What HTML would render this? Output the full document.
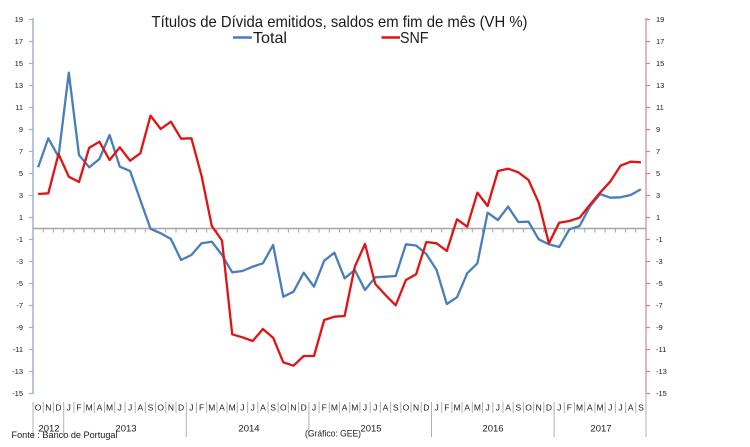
<!DOCTYPE html>
<html>
<head>
<meta charset="utf-8">
<style>
  html, body { margin: 0; padding: 0; background: #ffffff; }
  svg { display: block; }
  text { font-family: "Liberation Sans", sans-serif; fill: #1a1a1a; }
</style>
</head>
<body>
<svg width="750" height="447" viewBox="0 0 750 447" xmlns="http://www.w3.org/2000/svg">
  <rect width="750" height="447" fill="#ffffff"/>

  <!-- Title -->
  <text x="151.5" y="27" font-size="16" textLength="376" lengthAdjust="spacingAndGlyphs">Títulos de Dívida emitidos, saldos em fim de mês  (VH %)</text>

  <!-- Legend -->
  <line x1="233" y1="37.5" x2="252" y2="37.5" stroke="#4a7ebb" stroke-width="2.5"/>
  <text x="253" y="43" font-size="16" textLength="34" lengthAdjust="spacingAndGlyphs">Total</text>
  <line x1="381.5" y1="37.5" x2="400" y2="37.5" stroke="#e01414" stroke-width="2.5"/>
  <text x="400" y="43" font-size="16" textLength="28.5" lengthAdjust="spacingAndGlyphs">SNF</text>

  <!-- Left axis -->
  <line x1="33" y1="18" x2="33" y2="394" stroke="#9db3cc" stroke-width="1.5"/>
  <g stroke="#9db3cc" stroke-width="1.2">
    <line x1="29" y1="19.5" x2="33" y2="19.5"/>
    <line x1="29" y1="41.5" x2="33" y2="41.5"/>
    <line x1="29" y1="63.5" x2="33" y2="63.5"/>
    <line x1="29" y1="85.5" x2="33" y2="85.5"/>
    <line x1="29" y1="107.5" x2="33" y2="107.5"/>
    <line x1="29" y1="129.5" x2="33" y2="129.5"/>
    <line x1="29" y1="151.5" x2="33" y2="151.5"/>
    <line x1="29" y1="173.5" x2="33" y2="173.5"/>
    <line x1="29" y1="195.5" x2="33" y2="195.5"/>
    <line x1="29" y1="217.5" x2="33" y2="217.5"/>
    <line x1="29" y1="239.5" x2="33" y2="239.5"/>
    <line x1="29" y1="261.5" x2="33" y2="261.5"/>
    <line x1="29" y1="283.5" x2="33" y2="283.5"/>
    <line x1="29" y1="305.5" x2="33" y2="305.5"/>
    <line x1="29" y1="327.5" x2="33" y2="327.5"/>
    <line x1="29" y1="349.5" x2="33" y2="349.5"/>
    <line x1="29" y1="371.5" x2="33" y2="371.5"/>
    <line x1="29" y1="393.5" x2="33" y2="393.5"/>
  </g>
  <g font-size="7.5" text-anchor="end">
    <text x="23" y="22.2">19</text>
    <text x="23" y="44.2">17</text>
    <text x="23" y="66.2">15</text>
    <text x="23" y="88.2">13</text>
    <text x="23" y="110.2">11</text>
    <text x="23" y="132.2">9</text>
    <text x="23" y="154.2">7</text>
    <text x="23" y="176.2">5</text>
    <text x="23" y="198.2">3</text>
    <text x="23" y="220.2">1</text>
    <text x="23" y="242.2">-1</text>
    <text x="23" y="264.2">-3</text>
    <text x="23" y="286.2">-5</text>
    <text x="23" y="308.2">-7</text>
    <text x="23" y="330.2">-9</text>
    <text x="23" y="352.2">-11</text>
    <text x="23" y="374.2">-13</text>
    <text x="23" y="396.2">-15</text>
  </g>

  <!-- Right axis -->
  <line x1="646" y1="18" x2="646" y2="394" stroke="#d9a3a3" stroke-width="1.5"/>
  <g stroke="#e07a7a" stroke-width="1.2">
    <line x1="646" y1="19.5" x2="650" y2="19.5"/>
    <line x1="646" y1="41.5" x2="650" y2="41.5"/>
    <line x1="646" y1="63.5" x2="650" y2="63.5"/>
    <line x1="646" y1="85.5" x2="650" y2="85.5"/>
    <line x1="646" y1="107.5" x2="650" y2="107.5"/>
    <line x1="646" y1="129.5" x2="650" y2="129.5"/>
    <line x1="646" y1="151.5" x2="650" y2="151.5"/>
    <line x1="646" y1="173.5" x2="650" y2="173.5"/>
    <line x1="646" y1="195.5" x2="650" y2="195.5"/>
    <line x1="646" y1="217.5" x2="650" y2="217.5"/>
    <line x1="646" y1="239.5" x2="650" y2="239.5"/>
    <line x1="646" y1="261.5" x2="650" y2="261.5"/>
    <line x1="646" y1="283.5" x2="650" y2="283.5"/>
    <line x1="646" y1="305.5" x2="650" y2="305.5"/>
    <line x1="646" y1="327.5" x2="650" y2="327.5"/>
    <line x1="646" y1="349.5" x2="650" y2="349.5"/>
    <line x1="646" y1="371.5" x2="650" y2="371.5"/>
    <line x1="646" y1="393.5" x2="650" y2="393.5"/>
  </g>
  <g font-size="7.5" text-anchor="start">
    <text x="656" y="22.2">19</text>
    <text x="656" y="44.2">17</text>
    <text x="656" y="66.2">15</text>
    <text x="656" y="88.2">13</text>
    <text x="656" y="110.2">11</text>
    <text x="656" y="132.2">9</text>
    <text x="656" y="154.2">7</text>
    <text x="656" y="176.2">5</text>
    <text x="656" y="198.2">3</text>
    <text x="656" y="220.2">1</text>
    <text x="656" y="242.2">-1</text>
    <text x="656" y="264.2">-3</text>
    <text x="656" y="286.2">-5</text>
    <text x="656" y="308.2">-7</text>
    <text x="656" y="330.2">-9</text>
    <text x="656" y="352.2">-11</text>
    <text x="656" y="374.2">-13</text>
    <text x="656" y="396.2">-15</text>
  </g>

  <!-- Zero line with ticks -->
  <line x1="33" y1="228.5" x2="646" y2="228.5" stroke="#a6a6a6" stroke-width="1.6"/>
  <path stroke="#a6a6a6" stroke-width="1" fill="none" d="
    M43.2 228.5V232.5 M53.4 228.5V232.5 M63.7 228.5V232.5 M73.9 228.5V232.5 M84.1 228.5V232.5
    M94.3 228.5V232.5 M104.5 228.5V232.5 M114.7 228.5V232.5 M125.0 228.5V232.5 M135.2 228.5V232.5
    M145.4 228.5V232.5 M155.6 228.5V232.5 M165.8 228.5V232.5 M176.0 228.5V232.5 M186.3 228.5V232.5
    M196.5 228.5V232.5 M206.7 228.5V232.5 M216.9 228.5V232.5 M227.1 228.5V232.5 M237.3 228.5V232.5
    M247.6 228.5V232.5 M257.8 228.5V232.5 M268.0 228.5V232.5 M278.2 228.5V232.5 M288.4 228.5V232.5
    M298.6 228.5V232.5 M308.9 228.5V232.5 M319.1 228.5V232.5 M329.3 228.5V232.5 M339.5 228.5V232.5
    M349.7 228.5V232.5 M359.9 228.5V232.5 M370.2 228.5V232.5 M380.4 228.5V232.5 M390.6 228.5V232.5
    M400.8 228.5V232.5 M411.0 228.5V232.5 M421.2 228.5V232.5 M431.5 228.5V232.5 M441.7 228.5V232.5
    M451.9 228.5V232.5 M462.1 228.5V232.5 M472.3 228.5V232.5 M482.5 228.5V232.5 M492.8 228.5V232.5
    M503.0 228.5V232.5 M513.2 228.5V232.5 M523.4 228.5V232.5 M533.6 228.5V232.5 M543.8 228.5V232.5
    M554.1 228.5V232.5 M564.3 228.5V232.5 M574.5 228.5V232.5 M584.7 228.5V232.5 M594.9 228.5V232.5
    M605.1 228.5V232.5 M615.4 228.5V232.5 M625.6 228.5V232.5 M635.8 228.5V232.5"/>

  <!-- Category axis: month separators -->
  <path stroke="#b0b0b0" stroke-width="1" fill="none" d="
    M43.2 402V413 M53.4 402V413 M73.9 402V413 M84.1 402V413
    M94.3 402V413 M104.5 402V413 M114.7 402V413 M125.0 402V413 M135.2 402V413
    M145.4 402V413 M155.6 402V413 M165.8 402V413 M176.0 402V413
    M196.5 402V413 M206.7 402V413 M216.9 402V413 M227.1 402V413 M237.3 402V413
    M247.6 402V413 M257.8 402V413 M268.0 402V413 M278.2 402V413 M288.4 402V413
    M298.6 402V413 M319.1 402V413 M329.3 402V413 M339.5 402V413
    M349.7 402V413 M359.9 402V413 M370.2 402V413 M380.4 402V413 M390.6 402V413
    M400.8 402V413 M411.0 402V413 M421.2 402V413 M441.7 402V413
    M451.9 402V413 M462.1 402V413 M472.3 402V413 M482.5 402V413 M492.8 402V413
    M503.0 402V413 M513.2 402V413 M523.4 402V413 M533.6 402V413 M543.8 402V413
    M564.3 402V413 M574.5 402V413 M584.7 402V413 M594.9 402V413
    M605.1 402V413 M615.4 402V413 M625.6 402V413 M635.8 402V413"/>
  <!-- Year separators -->
  <path stroke="#b0b0b0" stroke-width="1" fill="none" d="
    M33 402V437 M63.7 402V437 M186.3 402V437 M308.9 402V437 M431.5 402V437 M554.1 402V437 M646 392V437"/>

  <!-- Month letters -->
  <g font-size="8.5" text-anchor="middle">
    <text x="38.1" y="410.5">O</text><text x="48.3" y="410.5">N</text><text x="58.5" y="410.5">D</text>
    <text x="68.8" y="410.5">J</text><text x="79.0" y="410.5">F</text><text x="89.2" y="410.5">M</text>
    <text x="99.4" y="410.5">A</text><text x="109.6" y="410.5">M</text><text x="119.8" y="410.5">J</text>
    <text x="130.1" y="410.5">J</text><text x="140.3" y="410.5">A</text><text x="150.5" y="410.5">S</text>
    <text x="160.7" y="410.5">O</text><text x="170.9" y="410.5">N</text><text x="181.1" y="410.5">D</text>
    <text x="191.4" y="410.5">J</text><text x="201.6" y="410.5">F</text><text x="211.8" y="410.5">M</text>
    <text x="222.0" y="410.5">A</text><text x="232.2" y="410.5">M</text><text x="242.4" y="410.5">J</text>
    <text x="252.7" y="410.5">J</text><text x="262.9" y="410.5">A</text><text x="273.1" y="410.5">S</text>
    <text x="283.3" y="410.5">O</text><text x="293.5" y="410.5">N</text><text x="303.7" y="410.5">D</text>
    <text x="314.0" y="410.5">J</text><text x="324.2" y="410.5">F</text><text x="334.4" y="410.5">M</text>
    <text x="344.6" y="410.5">A</text><text x="354.8" y="410.5">M</text><text x="365.0" y="410.5">J</text>
    <text x="375.3" y="410.5">J</text><text x="385.5" y="410.5">A</text><text x="395.7" y="410.5">S</text>
    <text x="405.9" y="410.5">O</text><text x="416.1" y="410.5">N</text><text x="426.3" y="410.5">D</text>
    <text x="436.6" y="410.5">J</text><text x="446.8" y="410.5">F</text><text x="457.0" y="410.5">M</text>
    <text x="467.2" y="410.5">A</text><text x="477.4" y="410.5">M</text><text x="487.6" y="410.5">J</text>
    <text x="497.9" y="410.5">J</text><text x="508.1" y="410.5">A</text><text x="518.3" y="410.5">S</text>
    <text x="528.5" y="410.5">O</text><text x="538.7" y="410.5">N</text><text x="548.9" y="410.5">D</text>
    <text x="559.2" y="410.5">J</text><text x="569.4" y="410.5">F</text><text x="579.6" y="410.5">M</text>
    <text x="589.8" y="410.5">A</text><text x="600.0" y="410.5">M</text><text x="610.2" y="410.5">J</text>
    <text x="620.5" y="410.5">J</text><text x="630.7" y="410.5">A</text><text x="640.9" y="410.5">S</text>
  </g>

  <!-- Year labels -->
  <g font-size="9.5" text-anchor="middle">
    <text x="49" y="431.5">2012</text>
    <text x="126" y="431.5">2013</text>
    <text x="249" y="431.5">2014</text>
    <text x="371" y="431.5">2015</text>
    <text x="493" y="431.5">2016</text>
    <text x="601" y="431.5">2017</text>
  </g>

  <!-- Source notes -->
  <text x="11.5" y="438" font-size="9" textLength="106" lengthAdjust="spacingAndGlyphs">Fonte : Banco de Portugal</text>
  <text x="305" y="436.5" font-size="9" textLength="56" lengthAdjust="spacingAndGlyphs">(Gráfico: GEE)</text>

  <!-- Series: Total (blue) -->
  <polyline fill="none" stroke="#4a7ebb" stroke-width="2.3" stroke-linejoin="round" points="
    38.1,167.3 48.3,138.3 58.5,156.7 68.8,72.7 79.0,155 89.2,167.3 99.4,159 109.6,135 119.8,166.7 130.1,171
    140.3,200 150.5,228.8 160.7,233.3 170.9,239 181.1,260 191.4,255 201.6,243.3 211.8,241.7 222.0,255 232.2,272.3
    242.4,271 252.7,266.7 262.9,263.3 273.1,245 283.3,296.7 293.5,291.7 303.7,272.7 314.0,286.7 324.2,260.7 334.4,252.7
    344.6,278.3 354.8,270 365.0,290 375.3,277.3 385.5,276.7 395.7,276 405.9,244.3 416.1,245.5 426.3,254 436.6,270
    446.8,304 457.0,297.3 467.2,273.3 477.4,263.3 487.6,212.7 497.9,220 508.1,206.7 518.3,222 528.5,221.7 538.7,239.3
    548.9,244.3 559.2,247 569.4,229.3 579.6,226 589.8,206.7 600.0,194 610.2,197.7 620.5,197.3 630.7,195 640.9,189.3"/>

  <!-- Series: SNF (red) -->
  <polyline fill="none" stroke="#e01414" stroke-width="2.3" stroke-linejoin="round" points="
    38.1,194 48.3,193.3 58.5,154 68.8,176.7 79.0,182 89.2,147.7 99.4,141.7 109.6,160 119.8,147.3 130.1,160.7
    140.3,153.3 150.5,115.7 160.7,129 170.9,121.7 181.1,138.7 191.4,138.3 201.6,176 211.8,226 222.0,240.5 232.2,334.3
    242.4,337.3 252.7,341 262.9,329 273.1,337.7 283.3,362.3 293.5,365.7 303.7,356 314.0,356 324.2,320 334.4,316.7
    344.6,316 354.8,266.7 365.0,244 375.3,284 385.5,295 395.7,305.3 405.9,280 416.1,274.3 426.3,242 436.6,243.3
    446.8,251 457.0,219.3 467.2,226.7 477.4,192.7 487.6,206 497.9,171 508.1,168.7 518.3,172.3 528.5,180 538.7,202.7
    548.9,243.3 559.2,222.7 569.4,221 579.6,217.7 589.8,205 600.0,192.7 610.2,181.7 620.5,165.7 630.7,161.7 640.9,162.3"/>
</svg>
</body>
</html>
